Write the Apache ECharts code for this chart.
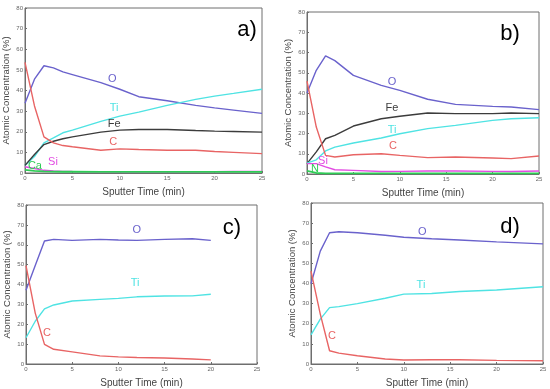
<!DOCTYPE html>
<html><head><meta charset="utf-8">
<script src="https://cdn.jsdelivr.net/npm/echarts@6/dist/echarts.min.js"></script>
<style>html,body{margin:0;padding:0;background:#fff}#c{width:550px;height:389px}</style>
</head><body><div id="c"></div>
<script>
// ---- data ----
const aT = [0,1,2,3,4,5,8,10,12,15,18,20,22,25];
const aO  = [33.8,45.5,52,51,49,47.7,43.8,40.6,37,35,32.8,31.6,30.5,28.9];
const aTi = [3.7,8,14.6,17,19.5,20.8,25,27.6,29.5,32.8,35.7,37.3,38.6,40.6];
const aFe = [3.7,9,13.8,15.4,16.6,17.5,19.8,20.8,21.1,21.1,20.6,20.3,20.1,19.8];
const aC  = [53.6,32.5,17.5,14.6,13.3,12.7,11,11.7,11.4,11,11,10.4,10,9.4];
const aSi = [3,2.2,1.3,1,0.8,0.7,0.6,0.5,0.5,0.5,0.5,0.6,0.7,0.8];
const aCa = [1.5,1,0.8,0.7,0.6,0.6,0.5,0.5,0.5,0.5,0.5,0.5,0.5,0.5];

const bT = [0,1,2,3,5,8,10,13,16,20,22,25];
const bO  = [40,51.2,58.3,56,48.7,43.8,41.3,36.9,34.4,33.4,33.1,31.8];
const bFe = [5.1,10.9,17.4,19.1,23.7,27.3,28.5,30.1,29.8,29.8,30.1,29.8];
const bTi = [5.4,7,11.4,13.3,15.3,17.8,19.9,22.4,24,26.5,27.3,27.8];
const bC  = [45.9,23.2,9.2,8.4,9.5,10,9.2,8.1,8.4,7.9,7.6,8.9];
const bSi = [5.1,5.1,3.5,2.1,1.8,1.2,1.3,1.5,1.5,1.3,1.2,1.5];
const bN  = [1.5,0.5,0.3,0.3,0.3,0.3,0.3,0.3,0.3,0.3,0.3,0.3];

const cT = [0,1,2,3,5,8,10,12,15,18,20];
const cO  = [37.1,49.5,61.9,62.7,62.2,62.7,62.4,62.2,62.7,63,62.2];
const cTi = [13.2,21.5,27.7,29.7,31.7,32.5,33,33.8,34.2,34.3,35.1];
const cC  = [49.5,25.6,9.9,7.4,6.1,4.1,3.6,3.3,3,2.5,2.1];

const dT = [0,1,2,3,5,8,10,13,16,20,25];
const dO  = [39.9,56.1,65.2,65.7,65.2,64,63,62.2,61.6,60.7,59.7];
const dTi = [14.5,22.3,28,28.5,30,32.7,34.7,35,36,36.8,38.4];
const dC  = [46.2,24.8,6.6,5.4,4.1,2.5,2,2.1,2.1,1.8,1.6];

const xTicks = [0,5,10,15,20,25];
const yTicks = [0,10,20,30,40,50,60,70,80];

const COL = {O:'#6a62cc', Ti:'#4fe3e3', Fe:'#3c3c3c', C:'#e86464', Si:'#e24ce2', Ca:'#2ecc55', N:'#2ecc55'};

const grids = [
  {left:25, top:8, width:237, height:165},
  {left:307, top:12, width:232, height:162},
  {left:26, top:205, width:231, height:162},
  {left:311, top:203, width:232, height:162}
];

const panels = [
  {t:aT, s:[['O',aO,[9.2,45.4]],['Ti',aTi,[9.4,31.7]],['Fe',aFe,[9.4,23.9]],['C',aC,[9.3,15.1]],['Si',aSi,[2.95,5.4]],['Ca',aCa,[1.05,3.4]]], tag:'a)', tagPos:[247,30]},
  {t:bT, s:[['O',bO,[9.16,45.4]],['Fe',bFe,[9.16,32.6]],['Ti',bTi,[9.16,21.7]],['C',bC,[9.27,13.8]],['Si',bSi,[1.72,6.4]],['N',bN,[0.86,2.5]]], tag:'b)', tagPos:[510,34]},
  {t:cT, s:[['O',cO,[12,67.2]],['Ti',cTi,[11.8,41]],['C',cC,[2.27,15.8]]], tag:'c)', tagPos:[232,228]},
  {t:dT, s:[['O',dO,[12,65.7]],['Ti',dTi,[11.85,39.5]],['C',dC,[2.26,13.8]]], tag:'d)', tagPos:[510,227]}
];

const FONT = 'Liberation Sans, Arial, sans-serif';
const option = {
  animation:false,
  grid: grids.map(g => Object.assign({show:true, borderColor:'#6e6e6e', borderWidth:1, backgroundColor:'#fff'}, g)),
  xAxis: [], yAxis: [], series: [], graphic: []
};

panels.forEach((p, i) => {
  option.xAxis.push({
    type:'value', gridIndex:i, min:0, max:25, interval:5,
    name:'Sputter Time (min)', nameLocation:'middle', nameGap:14,
    nameTextStyle:{fontFamily:FONT, fontSize:10, color:'#444'},
    axisLine:{show:true, lineStyle:{color:'#6e6e6e'}},
    axisTick:{show:true, inside:true, length:2, lineStyle:{color:'#6e6e6e'}},
    axisLabel:{fontFamily:FONT, fontSize:6, color:'#666', margin:2},
    splitLine:{show:false}
  });
  option.yAxis.push({
    type:'value', gridIndex:i, min:0, max:80, interval:10,
    name:'Atomic Concentration (%)', nameLocation:'middle', nameGap:14,
    nameTextStyle:{fontFamily:FONT, fontSize:9.5, color:'#444'},
    axisLine:{show:true, lineStyle:{color:'#6e6e6e'}},
    axisTick:{show:true, inside:true, length:2, lineStyle:{color:'#6e6e6e'}},
    axisLabel:{fontFamily:FONT, fontSize:6, color:'#666', margin:2},
    splitLine:{show:false}
  });
  p.s.forEach(([nm, vals, lp]) => {
    option.series.push({
      type:'line', xAxisIndex:i, yAxisIndex:i, showSymbol:false, symbol:'none',
      data: p.t.map((t, k) => [t, vals[k]]),
      lineStyle:{color:COL[nm], width:(nm==='Ca'||nm==='N')?1.8:1.4},
      itemStyle:{color:COL[nm]},
      markPoint:{
        symbol:'circle', symbolSize:0, silent:true,
        data:[{coord:lp}],
        label:{show:true, position:'inside', formatter:nm, color:COL[nm], fontFamily:FONT, fontSize:11}
      }
    });
  });
  option.graphic.push({
    type:'text', x:p.tagPos[0], y:p.tagPos[1],
    style:{text:p.tag, font:'22px ' + FONT, fill:'#000', textAlign:'center', textVerticalAlign:'middle'}
  });
});

const chart = echarts.init(document.getElementById('c'), null, {renderer:'canvas'});
chart.setOption(option);
</script></body></html>
